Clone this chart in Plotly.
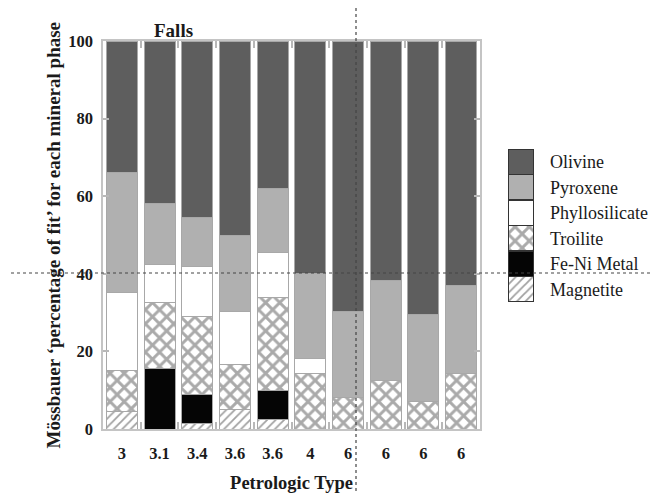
import plotly.graph_objects as go

# ---- data ----
petrologic_type = ["3", "3.1", "3.4", "3.6", "3.6", "4", "6", "6", "6", "6"]
magnetite      = [4.5, 0.0, 1.3, 4.9, 2.5, 0.0, 0.0, 0.0, 0.0, 0.0]
fe_ni_metal    = [0.0, 15.5, 7.7, 0.0, 7.3, 0.0, 0.0, 0.0, 0.0, 0.0]
troilite       = [10.7, 17.0, 20.0, 11.6, 24.2, 14.4, 8.2, 12.6, 7.0, 14.2]
phyllosilicate = [20.1, 9.8, 12.8, 13.7, 11.6, 3.9, 0.0, 0.0, 0.0, 0.0]
pyroxene       = [30.7, 15.7, 12.6, 19.8, 16.3, 21.7, 22.0, 25.8, 22.6, 22.7]
olivine        = [34.0, 42.0, 45.6, 50.0, 38.1, 60.0, 69.8, 61.6, 70.4, 63.1]

series_names = ["Magnetite", "Fe-Ni Metal", "Troilite", "Phyllosilicate", "Pyroxene", "Olivine"]
series_vals = [magnetite, fe_ni_metal, troilite, phyllosilicate, pyroxene, olivine]
y_ticks = [0, 20, 40, 60, 80, 100]

styles = {
    "Magnetite": dict(color="white", pattern=dict(shape="/", fgcolor="#444444", bgcolor="white", size=6, solidity=0.3)),
    "Fe-Ni Metal": dict(color="#050505"),
    "Troilite": dict(color="white", pattern=dict(shape="x", fgcolor="#555555", bgcolor="white", size=10, solidity=0.5)),
    "Phyllosilicate": dict(color="white"),
    "Pyroxene": dict(color="#b0b0b0"),
    "Olivine": dict(color="#5e5e5e"),
}

serif = "Liberation Serif"
xpos = list(range(len(petrologic_type)))

fig = go.Figure()
for name, vals in zip(series_names, series_vals):
    st = styles[name]
    fig.add_trace(go.Bar(
        x=xpos, y=vals, name=name, showlegend=False,
        marker=dict(color=st["color"], pattern=st.get("pattern"),
                    line=dict(color="#a8a8a8", width=1)),
        xaxis="x", yaxis="y",
    ))

# legend drawn as a tiny stacked bar on its own axes
for name in series_names:
    st = styles[name]
    fig.add_trace(go.Bar(
        x=[0], y=[1], name=name, showlegend=False, width=1,
        marker=dict(color=st["color"], pattern=st.get("pattern"),
                    line=dict(color="#333333", width=1.2)),
        xaxis="x2", yaxis="y2",
    ))

# page body has an 8px margin, so the figure is 8px smaller and shifted
main_frac = 377 / 431
fig.update_layout(
    width=650, height=485,
    margin=dict(l=95, r=124, t=33, b=64, autoexpand=False),
    paper_bgcolor="white", plot_bgcolor="white",
    barmode="stack", bargap=0.18,
    font=dict(family=serif, color="#1a1a1a"),
    xaxis=dict(
        domain=[0, main_frac], range=[-0.5, 9.5], automargin=False,
        tickmode="array", tickvals=xpos, ticktext=["<b>%s</b>" % t for t in petrologic_type],
        ticks="", showgrid=False, zeroline=False,
        showline=True, linecolor="#c4c4c4", linewidth=1.5, mirror="allticks",
        tickfont=dict(size=16.5, family=serif, color="#1a1a1a"),
        ticklabelstandoff=8,
        minor=dict(tickvals=[i + 0.5 for i in range(9)], ticks="inside",
                   ticklen=7, tickcolor="#b8b8b8", tickwidth=1.5),
        title=dict(text="<b>Petrologic Type</b>", font=dict(size=18.5, family=serif), standoff=22),
    ),
    yaxis=dict(
        domain=[0, 1], range=[0, 100], automargin=False,
        tickmode="array", tickvals=y_ticks, ticktext=["<b>%d</b>" % v for v in y_ticks],
        ticks="inside", ticklen=6, tickcolor="#b8b8b8", tickwidth=1.5,
        showgrid=False, zeroline=False,
        showline=True, linecolor="#c4c4c4", linewidth=1.5, mirror="ticks",
        tickfont=dict(size=16.5, family=serif, color="#1a1a1a"),
        ticklabelstandoff=5,
    ),
    xaxis2=dict(domain=[(508 - 103) / 431, 1], range=[-0.5, 0.5], anchor="y2", automargin=False,
                showticklabels=False, ticks="", showgrid=False, zeroline=False, showline=False),
    yaxis2=dict(domain=[(429 - 302) / 388, (429 - 149) / 388], range=[0, 6], anchor="x2",
                automargin=False,
                side="right", tickmode="array", tickvals=[i + 0.5 for i in range(6)],
                ticktext=series_names, ticks="", showgrid=False, zeroline=False, showline=False,
                tickfont=dict(size=18, family=serif, color="#1a1a1a"), ticklabelstandoff=15),
    annotations=[
        dict(text="<b>Falls</b>", x=(152 - 103) / 431, y=(429 - 18) / 388, xref="paper", yref="paper",
             showarrow=False, font=dict(size=19, family=serif, color="#1a1a1a")),
        dict(text="<b>Mössbauer ‘percentage of fit’ for each mineral phase</b>",
             x=(40 - 103) / 431, y=0.5, xref="paper", yref="paper", textangle=-90,
             showarrow=False, font=dict(size=19, family=serif, color="#1a1a1a")),
    ],
    shapes=[
        dict(type="line", xref="paper", yref="paper",
             x0=(11 - 103) / 431, x1=(658 - 103) / 431, y0=(429 - 273) / 388, y1=(429 - 273) / 388,
             line=dict(color="#444444", width=1.2, dash="dot")),
        dict(type="line", xref="paper", yref="paper",
             x0=(356 - 103) / 431, x1=(356 - 103) / 431, y0=(429 - 8) / 388, y1=(429 - 493) / 388,
             line=dict(color="#444444", width=1.2, dash="dot")),
    ],
)

fig.write_html("out.html")
